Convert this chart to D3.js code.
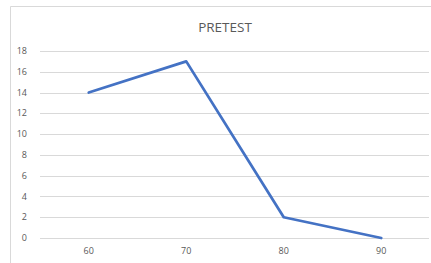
<!DOCTYPE html>
<html>
<head>
<meta charset="utf-8">
<script src="https://cdn.jsdelivr.net/npm/d3@7"></script>
<style>
  body { margin: 0; background: #fff; }
  svg { display: block; font-family: 'Open Sans', 'Liberation Sans', sans-serif; }
</style>
</head>
<body>
<div id="chart"></div>
<script>
const categories = ['60', '70', '80', '90']
const values = [14, 17, 2, 0]
const yTicks = [0, 2, 4, 6, 8, 10, 12, 14, 16, 18]
const title = 'PRETEST'

const width = 431, height = 263
const margin = {top: 51, right: 1, bottom: 25, left: 40}

const svg = d3.select('#chart').append('svg')
  .attr('width', width)
  .attr('height', height)

// chart frame
svg.append('path')
  .attr('d', `M10.5,${height} V6.5 H${width}`)
  .attr('fill', 'none')
  .attr('stroke', '#d9d9d9')
  .attr('stroke-width', 1)

const x = d3.scaleBand()
  .domain(categories)
  .range([margin.left, width - margin.right])

const y = d3.scaleLinear()
  .domain([0, 18])
  .range([height - margin.bottom, margin.top])

// gridlines
svg.append('g')
  .selectAll('line')
  .data(yTicks)
  .join('line')
    .attr('x1', margin.left)
    .attr('x2', width - margin.right - 1)
    .attr('y1', d => Math.round(y(d)) + 0.5)
    .attr('y2', d => Math.round(y(d)) + 0.5)
    .attr('stroke', '#d9d9d9')
    .attr('stroke-width', 1)

// y labels
svg.append('g')
  .selectAll('text')
  .data(yTicks)
  .join('text')
    .attr('x', 27)
    .attr('y', d => y(d))
    .attr('dy', '0.35em')
    .attr('text-anchor', 'end')
    .attr('font-size', 9)
    .attr('fill', '#595959')
    .text(d => d)

// x labels
svg.append('g')
  .selectAll('text')
  .data(categories)
  .join('text')
    .attr('x', d => x(d) + x.bandwidth() / 2)
    .attr('y', height - margin.bottom + 16)
    .attr('text-anchor', 'middle')
    .attr('font-size', 9)
    .attr('fill', '#595959')
    .text(d => d)

// line
const line = d3.line()
  .x((d, i) => x(categories[i]) + x.bandwidth() / 2)
  .y(d => y(d))

svg.append('path')
  .datum(values)
  .attr('d', line)
  .attr('fill', 'none')
  .attr('stroke', '#4472c4')
  .attr('stroke-width', 2.75)
  .attr('stroke-linejoin', 'round')
  .attr('stroke-linecap', 'round')

// title
svg.append('text')
  .attr('x', 225)
  .attr('y', 32)
  .attr('text-anchor', 'middle')
  .attr('font-size', 13.5)
  .attr('fill', '#595959')
  .text(title)
</script>
</body>
</html>
